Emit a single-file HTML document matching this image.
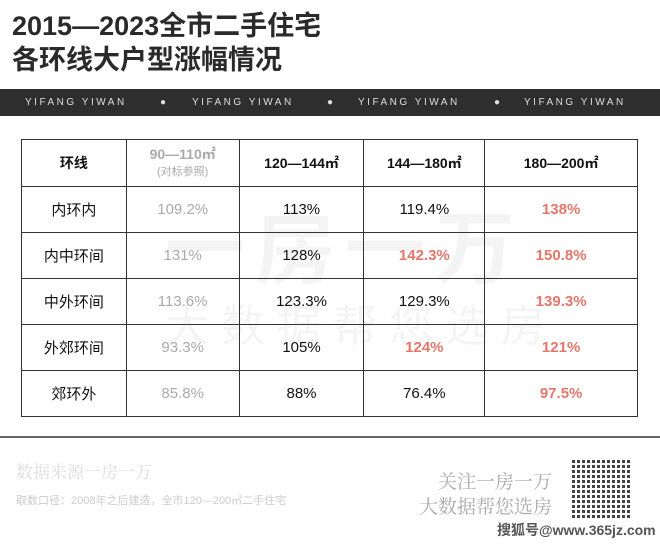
<!DOCTYPE html>
<html><head><meta charset="utf-8"><style>
*{margin:0;padding:0;box-sizing:border-box}
body{width:660px;height:547px;background:#fff;position:relative;overflow:hidden;font-family:"Liberation Sans","Noto Sans CJK SC",sans-serif;color:#111}
.t{position:absolute;left:12px;font-size:27px;font-weight:bold;color:#2a2a2a;line-height:32px}
.bar{position:absolute;left:0;top:89px;width:660px;height:27px;background:#2e2e2e;color:#ddd;font-size:10px;letter-spacing:2.5px;line-height:27px}
.bar span{position:absolute;top:0}
table{position:absolute;left:21px;top:139px;border-collapse:collapse;width:617px}
td{border:1.5px solid #333;text-align:center;font-size:15px;height:46px;padding:0}
tr:first-child td{height:47px;font-weight:bold;font-size:14px}
.g{color:#aaa}.r{color:#e4776a;font-weight:bold}
.wm{position:absolute;color:#000;opacity:.04;font-weight:bold}
.line{position:absolute;left:0;top:436px;width:660px;height:2px;background:#666}
.f{position:absolute;font-family:"Liberation Serif","Noto Serif CJK SC",serif;color:#ccc}
</style></head><body>
<div class="t" style="top:10px">2015—2023全市二手住宅</div>
<div class="t" style="top:44px">各环线大户型涨幅情况</div>
<div class="bar"><span style="left:25px">YIFANG YIWAN</span><span style="left:160px">●</span><span style="left:192px">YIFANG YIWAN</span><span style="left:327px">●</span><span style="left:358px">YIFANG YIWAN</span><span style="left:494px">●</span><span style="left:524px">YIFANG YIWAN</span></div>
<div class="wm" style="left:165px;top:185px;font-size:80px;letter-spacing:10px">一房一万</div>
<div class="wm" style="left:165px;top:290px;font-size:44px;font-weight:normal;letter-spacing:12px">大数据帮您选房</div>
<table>
<colgroup><col style="width:105px"><col style="width:113px"><col style="width:125px"><col style="width:121px"><col style="width:153px"></colgroup>
<tr><td>环线</td><td class="g" style="line-height:16px">90—110㎡<br><span style="font-weight:normal;font-size:11px">(对标参照)</span></td><td>120—144㎡</td><td>144—180㎡</td><td>180—200㎡</td></tr>
<tr><td>内环内</td><td class="g">109.2%</td><td>113%</td><td>119.4%</td><td class="r">138%</td></tr>
<tr><td>内中环间</td><td class="g">131%</td><td>128%</td><td class="r">142.3%</td><td class="r">150.8%</td></tr>
<tr><td>中外环间</td><td class="g">113.6%</td><td>123.3%</td><td>129.3%</td><td class="r">139.3%</td></tr>
<tr><td>外郊环间</td><td class="g">93.3%</td><td>105%</td><td class="r">124%</td><td class="r">121%</td></tr>
<tr><td>郊环外</td><td class="g">85.8%</td><td>88%</td><td>76.4%</td><td class="r">97.5%</td></tr>
</table>
<div class="line"></div>
<div class="f" style="left:16px;top:458px;font-size:17px;color:#ddd">数据来源一房一万</div>
<div class="f" style="left:16px;top:492px;font-size:11px;font-family:'Liberation Sans','Noto Sans CJK SC',sans-serif;color:#ccc">取数口径：2008年之后建造，全市120—200㎡二手住宅</div>
<div class="f" style="right:108px;top:467px;font-size:19px;color:#aaa">关注一房一万</div>
<div class="f" style="right:108px;top:492px;font-size:19px;color:#aaa">大数据帮您选房</div>
<div style="position:absolute;left:572px;top:458px;width:60px;height:60px;background:repeating-linear-gradient(90deg,#222 0 3px,#fff 3px 5px),#222;opacity:.85"></div>
<div style="position:absolute;left:572px;top:458px;width:60px;height:60px;background:repeating-linear-gradient(0deg,transparent 0 3px,#fff 3px 5px)"></div>
<div style="position:absolute;left:497px;top:520px;font-size:14px;color:#555;font-weight:bold">搜狐号@www.365jz.com</div>
</body></html>
